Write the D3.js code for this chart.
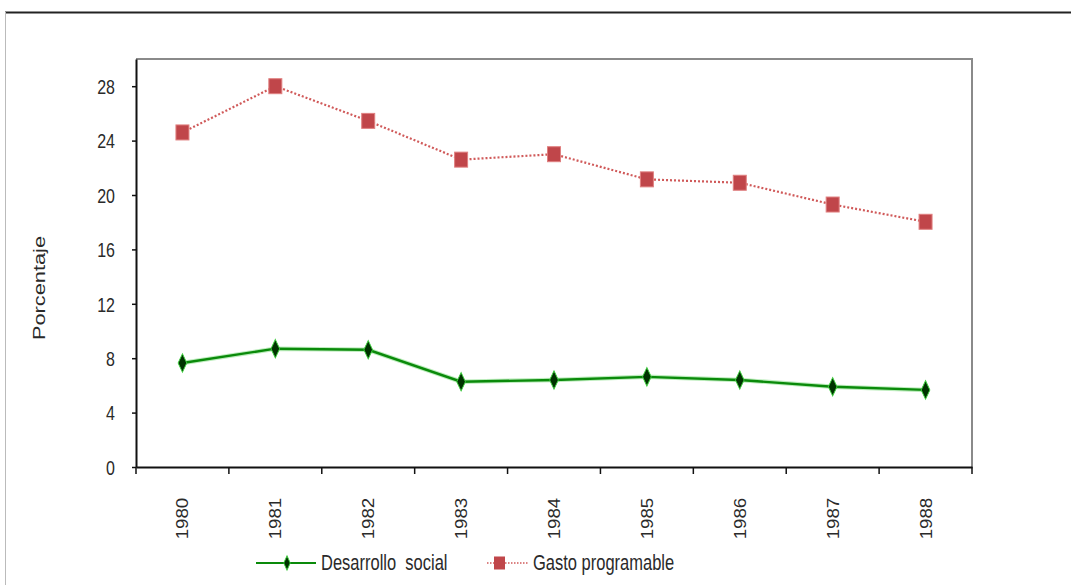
<!DOCTYPE html>
<html><head><meta charset="utf-8">
<script src="https://cdn.jsdelivr.net/npm/d3@7"></script>
<style>
body{margin:0;background:#fff;}
text{font-family:"Liberation Sans",Arial,sans-serif;fill:#2a2a2a;}
</style></head>
<body><svg id="c" width="1071" height="585"></svg>
<script>
const years = ["1980","1981","1982","1983","1984","1985","1986","1987","1988"];
const desarrolloSocial = [7.65, 8.7, 8.62, 6.27, 6.4, 6.63, 6.4, 5.9, 5.67];
const gastoProgramable = [24.6, 28.0, 25.45, 22.6, 23.0, 21.15, 20.9, 19.3, 18.03];
const yTicks = [0, 4, 8, 12, 16, 20, 24, 28];
const seriesNames = ["Desarrollo  social", "Gasto programable"];

const svg = d3.select("#c");
const L = 136, R = 972, T = 59, B = 467;
const STRETCH = 1.3;

// outer frame
svg.append("line").attr("x1",5).attr("x2",1071).attr("y1",12.5).attr("y2",12.5).attr("stroke","#222").attr("stroke-width",2);
svg.append("line").attr("x1",5.5).attr("x2",5.5).attr("y1",12).attr("y2",585).attr("stroke","#bbb").attr("stroke-width",1);

const x = d3.scaleBand().domain(years).range([L, R]);
const y = d3.scaleLinear().domain([0, 30]).range([B, T]);

// plot border (top/right gray)
svg.append("path").attr("d",`M${L},${T}H${R}V${B}`).attr("fill","none").attr("stroke","#8a8a8a").attr("stroke-width",2);

// y axis
const ya = svg.append("g").attr("transform",`translate(${L},0)`)
  .call(d3.axisLeft(y).tickValues(yTicks).tickSize(4).tickPadding(17).tickSizeOuter(0));
ya.select(".domain").attr("stroke","#111").attr("stroke-width",2);
ya.selectAll(".tick line").attr("stroke","#111").attr("stroke-width",1.5);
ya.selectAll(".tick text").style("font-size","16px").attr("fill","#2a2a2a")
  .attr("dy",null).attr("dominant-baseline","central")
  .attr("transform",`scale(1,${STRETCH})`);

// x axis
const xa = svg.append("g").attr("transform",`translate(0,${B})`)
  .call(d3.axisBottom(x).tickSize(0).tickSizeOuter(0));
xa.select(".domain").attr("stroke","#111").attr("stroke-width",2);
xa.selectAll(".tick text")
  .attr("transform","rotate(-90) scale(1.1,1)")
  .attr("x",-28).attr("y",0).attr("dy","0.35em")
  .attr("text-anchor","end")
  .style("font-size","17px").attr("fill","#2a2a2a");
// tick marks at band boundaries
const bounds = years.map(d => x(d)).concat([R]);
svg.append("g").selectAll("line").data(bounds).join("line")
  .attr("x1",d=>d).attr("x2",d=>d).attr("y1",B).attr("y2",B+7)
  .attr("stroke","#111").attr("stroke-width",1.5);

// y label
svg.append("text").attr("transform","translate(39,288) rotate(-90) scale(1.28,1)")
  .attr("text-anchor","middle").attr("dy","0.35em").style("font-size","17px").text("Porcentaje");

const cx = d => x(d) + x.bandwidth()/2;

// gasto line
const line = d3.line().x((d,i)=>cx(years[i])).y(d=>y(d));
svg.append("path").datum(gastoProgramable).attr("d",line)
  .attr("fill","none").attr("stroke","#d05a5a").attr("stroke-width",2.2).attr("stroke-dasharray","2,2");
svg.append("g").selectAll("rect").data(gastoProgramable).join("rect")
  .attr("x",(d,i)=>cx(years[i])-6.5).attr("y",d=>y(d)-7.5).attr("width",13).attr("height",15)
  .attr("fill","#c0464a").attr("stroke","#e08080").attr("stroke-width",1);

// desarrollo line
svg.append("path").datum(desarrolloSocial).attr("d",line)
  .attr("fill","none").attr("stroke","#8ee08e").attr("stroke-width",4.5).attr("opacity",0.6);
svg.append("path").datum(desarrolloSocial).attr("d",line)
  .attr("fill","none").attr("stroke","#0a8a0a").attr("stroke-width",2.4);
const diamond = d3.symbol().type(d3.symbolDiamond).size(90);
svg.append("g").selectAll("path").data(desarrolloSocial).join("path")
  .attr("d",diamond).attr("transform",(d,i)=>`translate(${cx(years[i])},${y(d)}) scale(0.85,1.05)`)
  .attr("fill","#003300").attr("stroke","#3fd03f").attr("stroke-width",1);

// legend
const ly = 563;
svg.append("line").attr("x1",256).attr("x2",316).attr("y1",ly).attr("y2",ly).attr("stroke","#0a8a0a").attr("stroke-width",2.2);
svg.append("path").attr("d",d3.symbol().type(d3.symbolDiamond).size(50)).attr("transform",`translate(287,${ly}) scale(0.85,1.1)`)
  .attr("fill","#003300").attr("stroke","#3fd03f").attr("stroke-width",1);
svg.append("text").attr("transform",`translate(321,${ly}) scale(1,${STRETCH})`).attr("dominant-baseline","central")
  .style("font-size","16.5px").style("white-space","pre").text(seriesNames[0]);
svg.append("line").attr("x1",487).attr("x2",528).attr("y1",ly).attr("y2",ly).attr("stroke","#d05a5a").attr("stroke-width",1.5).attr("stroke-dasharray","1.5,1.5");
svg.append("rect").attr("x",494).attr("y",ly-6.5).attr("width",11).attr("height",13).attr("fill","#c0464a");
svg.append("text").attr("transform",`translate(533,${ly}) scale(1,${STRETCH})`).attr("dominant-baseline","central")
  .style("font-size","16.5px").text(seriesNames[1]);
</script></body></html>
